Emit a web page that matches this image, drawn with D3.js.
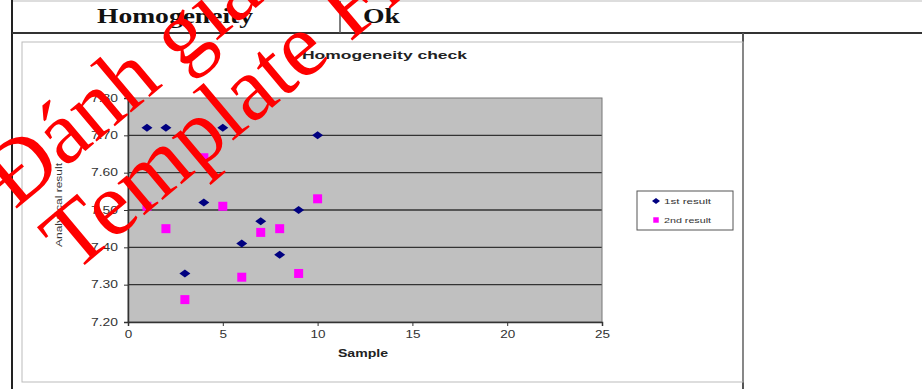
<!DOCTYPE html>
<html>
<head>
<meta charset="utf-8">
<script src="https://cdn.jsdelivr.net/npm/d3@7"></script>
<style>
  html, body { margin: 0; padding: 0; background: #fff; }
  svg { display: block; }
</style>
</head>
<body>
<svg id="chart" width="922" height="389"></svg>
<script>
// Homogeneity check: two analytical results for samples 1..10
const samples = [1, 2, 3, 4, 5, 6, 7, 8, 9, 10];
const firstResult  = [7.72, 7.72, 7.33, 7.52, 7.72, 7.41, 7.47, 7.38, 7.50, 7.70];
const secondResult = [7.51, 7.45, 7.26, 7.64, 7.51, 7.32, 7.44, 7.45, 7.33, 7.53];
const seriesNames = ["1st result", "2nd result"];
const xTicks = [0, 5, 10, 15, 20, 25];
const yTicks = [7.20, 7.30, 7.40, 7.50, 7.60, 7.70, 7.80];

const svg = d3.select("#chart");
const sans = "Arial, Liberation Sans, sans-serif";
const serif = "Liberation Serif, Times New Roman, serif";

// ---- surrounding report table ----
const frame = svg.append("g");
frame.append("line").attr("x1", 12).attr("x2", 922).attr("y1", 1).attr("y2", 1)
  .attr("stroke", "#bbb").attr("stroke-width", 1);
frame.append("line").attr("x1", 12).attr("x2", 12).attr("y1", 0).attr("y2", 389)
  .attr("stroke", "#222").attr("stroke-width", 2);
frame.append("line").attr("x1", 12).attr("x2", 922).attr("y1", 33).attr("y2", 33)
  .attr("stroke", "#333").attr("stroke-width", 2);
frame.append("line").attr("x1", 340).attr("x2", 340).attr("y1", 1).attr("y2", 33)
  .attr("stroke", "#555").attr("stroke-width", 1.5);
frame.append("line").attr("x1", 743).attr("x2", 743).attr("y1", 33).attr("y2", 389)
  .attr("stroke", "#555").attr("stroke-width", 2);

frame.append("text").attr("x", 97).attr("y", 23)
  .attr("font-family", serif).attr("font-weight", "bold").attr("font-size", 21).attr("fill", "#111")
  .attr("textLength", 156).attr("lengthAdjust", "spacingAndGlyphs")
  .text("Homogeneity");
frame.append("text").attr("x", 363).attr("y", 23)
  .attr("font-family", serif).attr("font-weight", "bold").attr("font-size", 21).attr("fill", "#111")
  .attr("textLength", 37).attr("lengthAdjust", "spacingAndGlyphs")
  .text("Ok");

// chart area border
svg.append("rect").attr("x", 22).attr("y", 42).attr("width", 721).attr("height", 340)
  .attr("fill", "none").attr("stroke", "#bbb").attr("stroke-width", 1);

// ---- plot ----
const plot = { left: 128, right: 602, top: 98, bottom: 322 };
const x = d3.scaleLinear().domain([0, 25]).range([plot.left, plot.right]);
const y = d3.scaleLinear().domain([7.20, 7.80]).range([plot.bottom, plot.top]);

svg.append("rect")
  .attr("x", plot.left).attr("y", plot.top)
  .attr("width", plot.right - plot.left).attr("height", plot.bottom - plot.top)
  .attr("fill", "#c0c0c0");

// horizontal gridlines
svg.append("g").selectAll("line").data(yTicks.slice(1, -1)).join("line")
  .attr("x1", plot.left).attr("x2", plot.right)
  .attr("y1", d => y(d)).attr("y2", d => y(d))
  .attr("stroke", "#333").attr("stroke-width", 1.4);

svg.append("rect")
  .attr("x", plot.left).attr("y", plot.top)
  .attr("width", plot.right - plot.left).attr("height", plot.bottom - plot.top)
  .attr("fill", "none").attr("stroke", "#777").attr("stroke-width", 1);

const yAxis = d3.axisLeft(y).tickValues(yTicks).tickFormat(d3.format(".2f")).tickSize(4).tickPadding(6);
const gy = svg.append("g").attr("transform", `translate(${plot.left},0)`).call(yAxis);
const xAxis = d3.axisBottom(x).tickValues(xTicks).tickFormat(d3.format("d")).tickSize(4).tickPadding(5);
const gx = svg.append("g").attr("transform", `translate(0,${plot.bottom})`).call(xAxis);
[gx, gy].forEach(g => {
  g.selectAll("path").attr("stroke", "#333").attr("stroke-width", 1.5);
  g.selectAll("line").attr("stroke", "#333");
  g.selectAll("text").attr("font-family", sans).attr("font-size", 10).attr("fill", "#333")
    .attr("lengthAdjust", "spacingAndGlyphs");
});
gy.selectAll("text").attr("textLength", 27);
gx.selectAll("text").attr("textLength", d => String(d).length * 7.5);

// markers: wide navy diamonds and magenta squares
const diamondPath = "M-5.5,0L0,-4L5.5,0L0,4Z";
const square = d3.symbol().type(d3.symbolSquare).size(81);

svg.append("g").selectAll("path").data(samples.map((s, i) => [s, secondResult[i]])).join("path")
  .attr("d", square)
  .attr("transform", d => `translate(${x(d[0])},${y(d[1])})`)
  .attr("fill", "#ff00ff");

svg.append("g").selectAll("path").data(samples.map((s, i) => [s, firstResult[i]])).join("path")
  .attr("d", diamondPath)
  .attr("transform", d => `translate(${x(d[0])},${y(d[1])})`)
  .attr("fill", "#000080");

// titles
svg.append("text").attr("x", 302).attr("y", 59)
  .attr("font-family", sans).attr("font-weight", "bold").attr("font-size", 11).attr("fill", "#222")
  .attr("textLength", 165).attr("lengthAdjust", "spacingAndGlyphs")
  .text("Homogeneity check");
svg.append("text").attr("x", 338).attr("y", 357)
  .attr("font-family", sans).attr("font-weight", "bold").attr("font-size", 10).attr("fill", "#222")
  .attr("textLength", 50).attr("lengthAdjust", "spacingAndGlyphs")
  .text("Sample");
svg.append("text").attr("transform", "translate(62,247) rotate(-90)")
  .attr("font-family", sans).attr("font-size", 9).attr("fill", "#333")
  .attr("textLength", 84).attr("lengthAdjust", "spacingAndGlyphs")
  .text("Analytical result");

// legend
const legend = svg.append("g").attr("transform", "translate(637,191)");
legend.append("rect").attr("width", 96).attr("height", 39)
  .attr("fill", "#fff").attr("stroke", "#555").attr("stroke-width", 1);
const legendColors = ["#000080", "#ff00ff"];
seriesNames.forEach((name, i) => {
  const row = legend.append("g").attr("transform", `translate(0,${10 + i * 19})`);
  row.append("path")
    .attr("d", i === 0 ? "M-4,0L0,-3L4,0L0,3Z" : d3.symbol().type(d3.symbolSquare).size(30))
    .attr("transform", "translate(19,0)").attr("fill", legendColors[i]);
  row.append("text").attr("x", 27).attr("y", 3)
    .attr("font-family", sans).attr("font-size", 8).attr("fill", "#333")
    .attr("textLength", 47).attr("lengthAdjust", "spacingAndGlyphs")
    .text(name);
});

// red diagonal stamp over the sheet
const stamp = svg.append("g").attr("transform", "translate(74,274) rotate(-40)")
  .attr("font-family", serif).attr("fill", "#ff0000");
stamp.append("text").attr("x", -4.5).attr("y", -87).attr("font-size", 90).text("Đánh giá");
stamp.append("text").attr("x", 0).attr("y", 0).attr("font-size", 91).text("Template Free");
</script>
</body>
</html>
